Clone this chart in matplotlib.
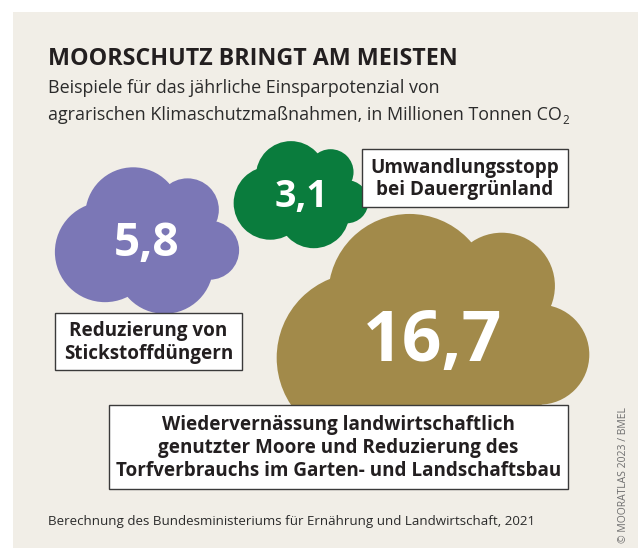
import numpy as np
import matplotlib
matplotlib.use("Agg")
import matplotlib.pyplot as plt
from matplotlib import font_manager
from matplotlib.patches import Circle, Rectangle

# savings potential, million tonnes CO2 per year
measures = [
    "Reduzierung von\nStickstoffdüngern",
    "Umwandlungsstopp\nbei Dauergrünland",
    "Wiedervernässung landwirtschaftlich\ngenutzter Moore und Reduzierung des\nTorfverbrauchs im Garten- und Landschaftsbau",
]
values = [5.8, 3.1, 16.7]
colors = ["#7b77b6", "#0a7c3d", "#a28a4a"]

title = "MOORSCHUTZ BRINGT AM MEISTEN"
subtitle = ["Beispiele für das jährliche Einsparpotenzial von",
            "agrarischen Klimaschutzmaßnahmen, in Millionen Tonnen CO"]
source = "Berechnung des Bundesministeriums für Ernährung und Landwirtschaft, 2021"
credit = "© MOORATLAS 2023 / BMEL"

# layout (pixels, y downwards)
cloud_xy = [(147, 241), (301, 195), (433, 339)]
num_size = [33, 27, 50]
boxes = [(55, 313, 187, 57), (362, 149, 206, 58), (109, 405, 459, 84)]

# cloud outline as union of circles: (dx, dy, r) in units of cloud width
lobes = [(-0.075, -0.14, 0.26), (0.22, -0.17, 0.17), (0.34, 0.05, 0.16),
         (0.095, 0.13, 0.265), (-0.228, 0.06, 0.272), (0.03, 0.0, 0.25)]

names = {f.name for f in font_manager.fontManager.ttflist}
narrow = "Liberation Sans Narrow" if "Liberation Sans Narrow" in names else "Open Sans"
bold = "Open Sans"

beige = "#f1eee7"
ink = "#231f20"

fig = plt.figure(figsize=(6.38, 5.48), dpi=100)
ax = fig.add_axes([0, 0, 1, 1])
ax.set_xlim(0, 638)
ax.set_ylim(548, 0)
ax.axis("off")
fig.patch.set_facecolor("white")
ax.add_patch(Rectangle((13, 12), 640, 540, color=beige, lw=0, zorder=0))

renderer = fig.canvas.get_renderer()


def fit(t, width):
    # scale font so the text spans the given pixel width
    w = t.get_window_extent(renderer).width
    t.set_fontsize(t.get_fontsize() * width / w)


def right_edge(t):
    bb = t.get_window_extent(renderer)
    return ax.transData.inverted().transform((bb.x1, bb.y0))[0]


t = ax.text(48, 65, title, fontsize=16.5, family=bold, weight="bold",
            color=ink, va="baseline")
fit(t, 409)
s1 = ax.text(48, 93, subtitle[0], fontsize=14, family=narrow, color="#2b2b2b",
             va="baseline")
fit(s1, 394)
s2 = ax.text(48, 120, subtitle[1], fontsize=s1.get_fontsize(), family=narrow,
             color="#2b2b2b", va="baseline")
ax.text(right_edge(s2) + 0.5, 124, "2", fontsize=s1.get_fontsize() * 0.65,
        family=narrow, color="#2b2b2b", va="baseline")

for (cx, cy), v, c, fs in zip(cloud_xy, values, colors, num_size):
    w = 76.5 * np.sqrt(v)
    for dx, dy, r in lobes:
        ax.add_patch(Circle((cx + dx * w, cy + dy * w), r * w, color=c, lw=0,
                            zorder=2))
    ax.text(cx, cy + 0.013 * w, f"{v:.1f}".replace(".", ","), fontsize=fs,
            family=bold, weight="bold", color="white", ha="center",
            va="center", zorder=3)

for (x, y, w, h), label in zip(boxes, measures):
    ax.add_patch(Rectangle((x, y), w, h, facecolor="white", edgecolor="#3a3a3a",
                           lw=1.0, zorder=4))
    ax.text(x + w / 2, y + h / 2 + 1, label, fontsize=13.6, family=bold,
            weight="bold", color=ink, ha="center", va="center",
            linespacing=1.2, zorder=5)

src = ax.text(48, 525, source, fontsize=11, family=narrow, color="#2b2b2b",
              va="baseline")
fit(src, 489)

cr = ax.text(623, 543, credit, fontsize=8.5, family=narrow, color="#6e6e6e",
             rotation=90, ha="center", va="bottom")
h = cr.get_window_extent(renderer).height
cr.set_fontsize(8.5 * 135 / h)

fig.savefig("out.png", dpi=100)
